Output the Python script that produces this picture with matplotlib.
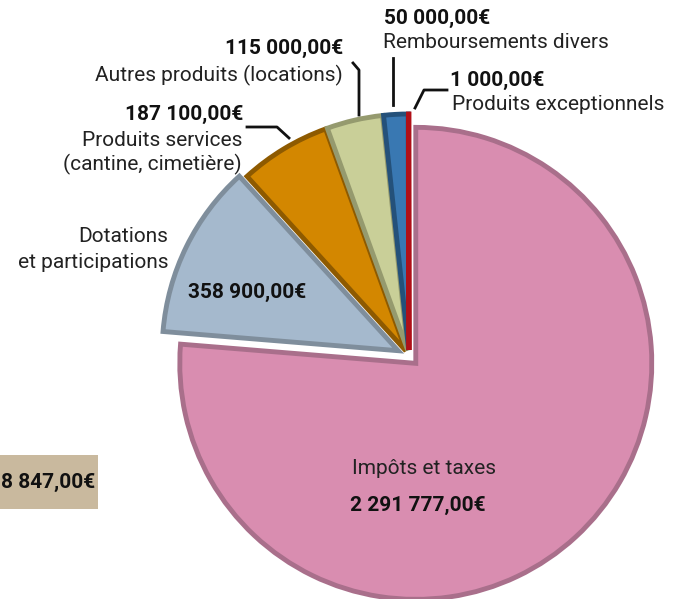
import numpy as np
import matplotlib.pyplot as plt
from matplotlib.patches import Rectangle

plt.rcParams['font.family'] = ['Roboto', 'DejaVu Sans']

categories = ["Impôts et taxes", "Dotations et participations", "Produits services",
              "Autres produits", "Remboursements divers", "Produits exceptionnels"]
valeurs = [2291777, 358900, 187100, 115000, 50000, 1000]
couleurs = ["#D98DB0", "#A5B9CD", "#D38700", "#C9CF98", "#3978B2", "#E3202B"]
bords = ["#A96F8B", "#7F8E9C", "#8E5A00", "#959A6E", "#24517A", "#B01018"]
# explosion in pixels (pie is drawn in pixel units)
eclate = [10, 12, 6, 6, 6, 6]
total_label = "8 847,00€"

W, H = 678, 599
fig = plt.figure(figsize=(W / 100, H / 100), dpi=100)
ax = fig.add_axes([0, 0, 1, 1])

def py(y):
    # y in pixels from the top
    return H - y

wedges, _ = ax.pie(valeurs, colors=couleurs, startangle=90, counterclock=False,
                   explode=eclate, center=(409, py(356)), radius=236, frame=True)
for w, b in zip(wedges, bords):
    w.set_edgecolor(b)
    w.set_linewidth(3.5)
    w.set_joinstyle('miter')
ax.set_xlim(0, W)
ax.set_ylim(0, H)
ax.set_aspect('equal')
ax.axis('off')

fs = 15
bold = dict(fontsize=fs, fontweight='bold', color='#111111')
reg = dict(fontsize=fs, color='#222222')

# Impôts
ax.text(424, py(468), "Impôts et taxes", ha='center', va='center', **reg)
ax.text(418, py(505), "2 291 777,00€", ha='center', va='center', **bold)

# Dotations
ax.text(247, py(292), "358 900,00€", ha='center', va='center', **bold)
ax.text(168, py(237), "Dotations", ha='right', va='center', **reg)
ax.text(168, py(262), "et participations", ha='right', va='center', **reg)

# Produits services
ax.text(243, py(114), "187 100,00€", ha='right', va='center', **bold)
ax.text(242, py(140), "Produits services", ha='right', va='center', **reg)
ax.text(242, py(164), "(cantine, cimetière)", ha='right', va='center', **reg)
ax.plot([247, 277, 289], [py(127), py(127), py(138)], color='#111111', lw=2)

# Autres produits
ax.text(343, py(48), "115 000,00€", ha='right', va='center', **bold)
ax.text(343, py(75), "Autres produits (locations)", ha='right', va='center', **reg)
ax.plot([353, 359, 359], [py(63), py(70), py(115)], color='#111111', lw=2)

# Remboursements
ax.text(384, py(18), "50 000,00€", ha='left', va='center', **bold)
ax.text(383, py(43), "Remboursements divers", ha='left', va='center', **reg)
ax.plot([393, 393], [py(58), py(105)], color='#111111', lw=2)

# Exceptionnels
ax.text(450, py(80), "1 000,00€", ha='left', va='center', **bold)
ax.text(452, py(105), "Produits exceptionnels", ha='left', va='center', **reg)
ax.plot([447, 424, 415], [py(90), py(90), py(108)], color='#111111', lw=2)

# total box, running off the left edge
ax.add_patch(Rectangle((-10, py(509)), 108, 54, facecolor='#C9B99E',
                       edgecolor='none', zorder=1))
ax.text(95, py(482), total_label, ha='right', va='center', zorder=2, **bold)

fig.savefig("out.png", dpi=100)
